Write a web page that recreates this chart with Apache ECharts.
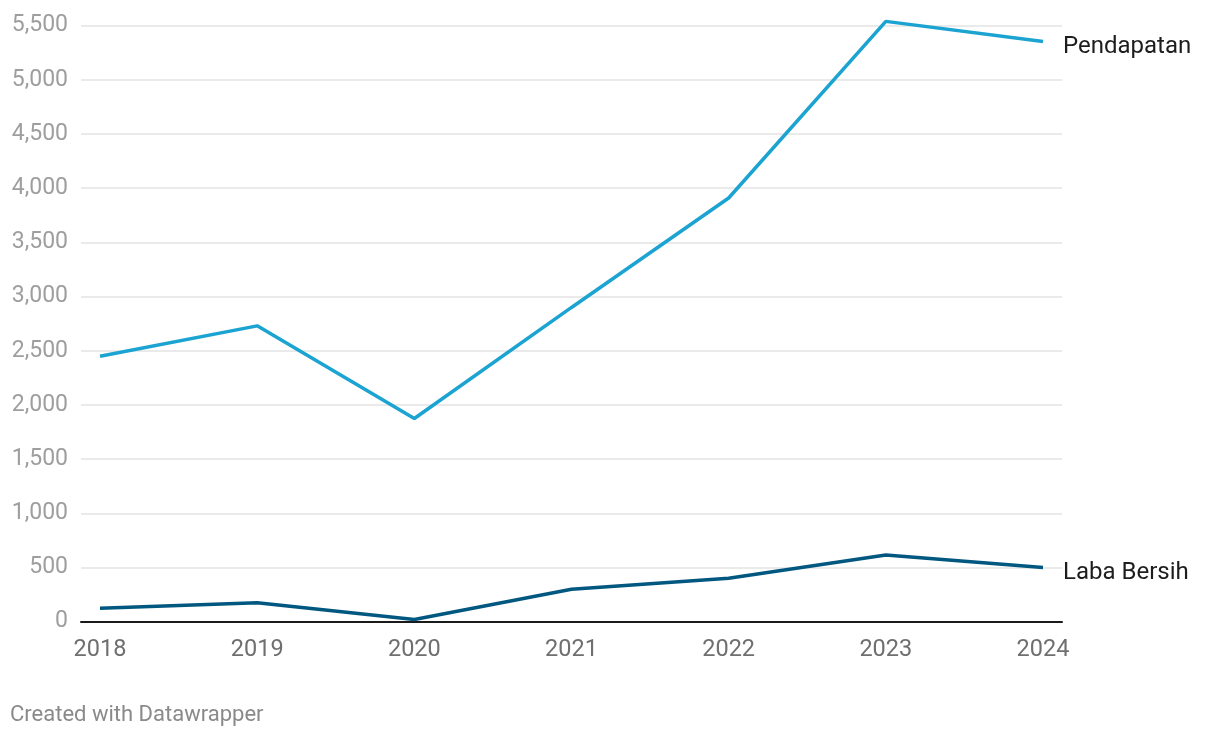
<!DOCTYPE html>
<html>
<head>
<meta charset="utf-8">
<script src="https://cdn.jsdelivr.net/npm/echarts@6/dist/echarts.min.js"></script>
<style>
html,body{margin:0;padding:0;background:#fff;}
#c{width:1220px;height:738px;}
</style>
</head>
<body>
<div id="c"></div>
<script>
const years = [2018, 2019, 2020, 2021, 2022, 2023, 2024];
const pendapatan = [2450, 2730, 1875, 2900, 3910, 5540, 5355];
const labaBersih = [125, 175, 20, 300, 400, 615, 500];
const yTicks = [0, 500, 1000, 1500, 2000, 2500, 3000, 3500, 4000, 4500, 5000, 5500];

const chart = echarts.init(document.getElementById('c'));
const font = 'Roboto, "Noto Sans", sans-serif';
chart.setOption({
  animation: false,
  backgroundColor: '#fff',
  grid: {left: 81, right: 158, top: 25.7, bottom: 116.3, containLabel: false},
  xAxis: {
    type: 'value',
    min: 2017.879,
    max: 2024.121,
    axisLine: {show: true, onZero: true, lineStyle: {color: '#1a1a1a', width: 2}},
    axisTick: {show: false},
    splitLine: {show: false},
    axisLabel: {
      customValues: years,
      color: '#6f6f6f',
      fontSize: 23.5,
      fontFamily: font,
      margin: 16,
      formatter: v => String(v)
    }
  },
  yAxis: {
    type: 'value',
    min: 0,
    max: 5500,
    interval: 500,
    axisLine: {show: false},
    axisTick: {show: false},
    splitLine: {lineStyle: {color: '#e3e3e3', width: 1.5}},
    axisLabel: {
      customValues: yTicks,
      color: '#9e9e9e',
      fontSize: 23,
      fontFamily: font,
      margin: 13,
      padding: [3, 0, 0, 0],
      formatter: v => v.toLocaleString('en-US')
    }
  },
  series: [
    {
      name: 'Pendapatan',
      type: 'line',
      clip: false,
      data: years.map((y, i) => [y, pendapatan[i]]),
      symbol: 'none',
      lineStyle: {color: '#1ba3d1', width: 3.5},
      endLabel: {show: true, formatter: 'Pendapatan', color: '#1d1d1d', fontSize: 24, fontFamily: font, distance: 20, offset: [0, 6]}
    },
    {
      name: 'Laba Bersih',
      type: 'line',
      clip: false,
      data: years.map((y, i) => [y, labaBersih[i]]),
      symbol: 'none',
      lineStyle: {color: '#00577f', width: 3.5},
      endLabel: {show: true, formatter: 'Laba Bersih', color: '#1d1d1d', fontSize: 24, fontFamily: font, distance: 20, offset: [0, 5]}
    }
  ],
  graphic: [
    {
      type: 'text',
      left: 10,
      top: 704,
      style: {text: 'Created with Datawrapper', fill: '#8a8a8a', fontSize: 22, fontFamily: font}
    }
  ]
});
</script>
</body>
</html>
